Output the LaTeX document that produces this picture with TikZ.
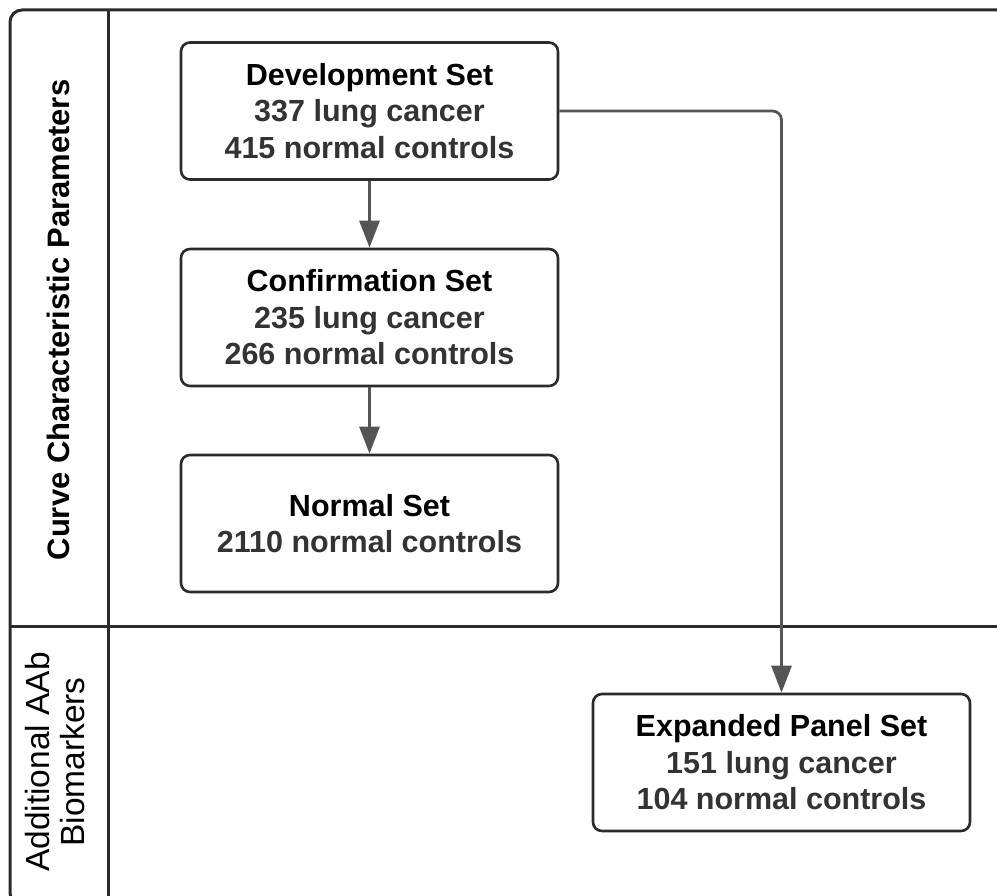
\documentclass[tikz,border=0pt]{standalone}
\usepackage{fontspec}
\setmainfont{Liberation Sans}
\usetikzlibrary{arrows.meta}
\definecolor{framecol}{HTML}{2B2B2B}
\definecolor{arrcol}{HTML}{555555}
\definecolor{subtxt}{HTML}{333333}
\tikzset{
  setbox/.style={draw=framecol, line width=2.6pt, rounded corners=9pt, fill=white,
    minimum width=377pt, minimum height=137pt, align=center, inner sep=0pt,
    font=\fontsize{30.5}{36.5}\selectfont\bfseries, text=subtxt},
  arr/.style={draw=arrcol, line width=2.8pt, -{Triangle[width=20pt,length=27pt]}},
  frameline/.style={draw=framecol, line width=3pt},
  lanelbl/.style={rotate=90, align=center, inner sep=0pt, text=black}
}
\newcommand{\ttl}[1]{\textcolor{black}{#1}}
\begin{document}
\begin{tikzpicture}[x=1pt,y=-1pt]
\useasboundingbox (0,0) rectangle (997,896);
\fill[white] (0,0) rectangle (997,896);
% frame
\draw[frameline, rounded corners=12pt] (10,10) rectangle (1015,905);
\draw[frameline] (108,10) -- (108,905);
\draw[frameline] (10,626) -- (1015,626);
% lane labels
\node[lanelbl, font=\fontsize{31}{36}\selectfont\bfseries] (lane1) at (58,320) {Curve Characteristic Parameters};
\node[lanelbl, font=\fontsize{33.5}{35}\selectfont] (lane2) at (55,762) {Additional AAb\\Biomarkers};
% boxes
\node[setbox] (dev) at (369.5,111) {\ttl{Development Set}\\337 lung cancer\\415 normal controls};
\node[setbox] (conf) at (369.5,317.5) {\ttl{Confirmation Set}\\235 lung cancer\\266 normal controls};
\node[setbox] (norm) at (369.5,523.5) {\ttl{Normal Set}\\2110 normal controls};
\node[setbox] (exp) at (781.5,762.5) {\ttl{Expanded Panel Set}\\151 lung cancer\\104 normal controls};
% connectors
\draw[arr] (dev) -- (conf);
\draw[arr] (conf) -- (norm);
\draw[arr, rounded corners=9pt] (dev.east) -| (exp.north);
\end{tikzpicture}
\end{document}
